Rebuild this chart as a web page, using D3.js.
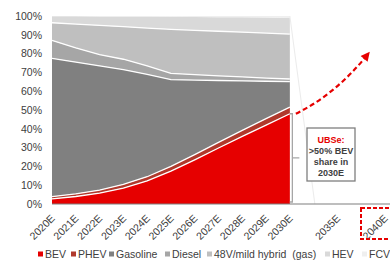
<!DOCTYPE html>
<html>
<head>
<meta charset="utf-8">
<script src="https://cdn.jsdelivr.net/npm/d3@7"></script>
<style>
  body { margin: 0; background: #fff; }
  svg { display: block; font-family: "Liberation Sans", Arial, sans-serif; }
</style>
</head>
<body>
<svg id="chart" width="390" height="261"></svg>
<script>
// categories on the axis (blank slots keep the gap before 2035E / 2040E)
const years = ["2020E","2021E","2022E","2023E","2024E","2025E","2026E","2027E","2028E","2029E","2030E"];
const tickLabels = [...years, "", "2035E", "", "2040E"];

// powertrain share, % of sales
const bev      = [2.7, 4.0, 5.8, 8.5, 12.3, 17.5, 23.5, 29.8, 36.0, 42.0, 48.0];
const phev     = [1.2, 1.4, 1.6, 1.9, 2.2, 2.5, 2.8, 3.0, 3.2, 3.4, 3.5];
const gasoline = [73.6, 70.1, 66.1, 61.1, 54.5, 46.2, 39.6, 32.9, 26.3, 19.9, 13.6];
const diesel   = [9.5, 7.5, 6.0, 5.5, 4.5, 3.3, 2.9, 2.5, 2.1, 1.7, 1.4];
const mild48v  = [9.4, 12.7, 15.5, 17.3, 20.1, 23.4, 23.6, 23.7, 23.8, 23.9, 23.9];
const hev      = [3.5, 4.2, 4.8, 5.5, 6.1, 6.7, 7.1, 7.5, 7.9, 8.3, 8.6];
const fcv      = [0.1, 0.1, 0.2, 0.2, 0.3, 0.4, 0.5, 0.6, 0.7, 0.8, 1.0];

const seriesNames = ["BEV", "PHEV", "Gasoline", "Diesel", "48V/mild hybrid  (gas)", "HEV", "FCV"];
const seriesValues = [bev, phev, gasoline, diesel, mild48v, hev, fcv];
const yTicks = [0, 10, 20, 30, 40, 50, 60, 70, 80, 90, 100];

const colors = ["#e60000", "#b0392c", "#808080", "#a6a6a6", "#bfbfbf", "#d9d9d9", "#efefef"];
const legendX = [38, 71, 109, 165, 207, 325, 362];

const svg = d3.select("#chart");

// rows for the stack
const rows = years.map((yr, i) => {
  const r = { idx: i };
  seriesNames.forEach((n, k) => r[n] = seriesValues[k][i]);
  return r;
});

const x = d3.scalePoint().domain(d3.range(tickLabels.length)).range([52, 385]);
const y = d3.scaleLinear().domain([0, 100]).range([204, 16]);

const stacked = d3.stack().keys(seriesNames)(rows);

const area = d3.area()
  .x(d => x(d.data.idx))
  .y0(d => y(d[0]))
  .y1(d => y(d[1]));

const topLine = d3.line()
  .x(d => x(d.data.idx))
  .y(d => y(d[1]));

svg.append("g").selectAll("path")
  .data(stacked)
  .join("path")
  .attr("d", area)
  .attr("fill", (d, i) => colors[i]);

// white separators between bands
svg.append("g").selectAll("path")
  .data(stacked.slice(0, 5))
  .join("path")
  .attr("d", topLine)
  .attr("fill", "none")
  .attr("stroke", "#fff")
  .attr("stroke-width", 1.3);

// faint leader line to the right of 2030E
svg.append("line")
  .attr("x1", x(10)).attr("y1", y(100))
  .attr("x2", x(10) + 25).attr("y2", y(0))
  .attr("stroke", "#ebebeb").attr("stroke-width", 1);

// y axis
const yAxis = svg.append("g")
  .attr("transform", "translate(52,0)")
  .call(d3.axisLeft(y).tickValues(yTicks).tickFormat(d => d + "%").tickSize(0).tickPadding(10));
yAxis.select(".domain").remove();
yAxis.selectAll("text")
  .attr("font-size", 10.5)
  .attr("font-family", "Liberation Sans, Arial, sans-serif")
  .attr("fill", "#404040");

// x axis
const xAxis = svg.append("g")
  .attr("transform", "translate(0,204)")
  .call(d3.axisBottom(x).tickFormat(i => tickLabels[i]).tickSize(0));
xAxis.select(".domain").remove();
xAxis.selectAll("text")
  .attr("x", 0).attr("y", 0).attr("dy", 0)
  .attr("text-anchor", "end")
  .attr("transform", "translate(3,15) rotate(-45)")
  .attr("font-size", 10.5)
  .attr("font-family", "Liberation Sans, Arial, sans-serif")
  .attr("fill", "#404040");

svg.append("line")
  .attr("x1", 52).attr("x2", 390)
  .attr("y1", y(0)).attr("y2", y(0))
  .attr("stroke", "#7f7f7f").attr("stroke-width", 1.2);

// bracket beside the 2030E BEV share
const bx = x(10) + 2.5;
const bTop = y(bev[10]);
const bBot = y(0) - 2;
svg.append("path")
  .attr("d", `M${bx - 2.5},${bTop} H${bx} V${bBot} H${bx - 2.5} M${bx},${(bTop + bBot) / 2} H${bx + 7}`)
  .attr("fill", "none")
  .attr("stroke", "#a6a6a6")
  .attr("stroke-width", 1.3);

// callout box
const box = svg.append("g");
box.append("rect")
  .attr("x", 307).attr("y", 128).attr("width", 48).attr("height", 53)
  .attr("fill", "#fff").attr("stroke", "#7f7f7f").attr("stroke-width", 1.3);
const boxLines = ["UBSe:", ">50% BEV", "share in", "2030E"];
box.selectAll("text")
  .data(boxLines)
  .join("text")
  .attr("x", 331)
  .attr("y", (d, i) => 142.5 + i * 11)
  .attr("text-anchor", "middle")
  .attr("font-size", 9)
  .attr("font-weight", "bold")
  .attr("fill", (d, i) => i === 0 ? "#e60000" : "#404040")
  .text(d => d);

// red dashed arrow
const p0 = [x(10) + 6, bTop], c = [335, 94.5], p1 = [366, 56.5];
svg.append("path")
  .attr("d", `M${p0[0]},${p0[1]} Q${c[0]},${c[1]} ${p1[0]},${p1[1]}`)
  .attr("fill", "none")
  .attr("stroke", "#e60000")
  .attr("stroke-width", 2.2)
  .attr("stroke-dasharray", "5,3");
const dx = p1[0] - c[0], dy = p1[1] - c[1], len = Math.hypot(dx, dy);
const ux = dx / len, uy = dy / len;
const tip = [p1[0] + ux * 6, p1[1] + uy * 6];
const base = [tip[0] - ux * 9, tip[1] - uy * 9];
svg.append("path")
  .attr("d", `M${tip[0]},${tip[1]} L${base[0] - uy * 4.5},${base[1] + ux * 4.5} L${base[0] + uy * 4.5},${base[1] - ux * 4.5} Z`)
  .attr("fill", "#e60000");

// dashed box round 2040E
svg.append("rect")
  .attr("x", 361).attr("y", 208).attr("width", 40).attr("height", 31)
  .attr("fill", "none")
  .attr("stroke", "#e60000")
  .attr("stroke-width", 2)
  .attr("stroke-dasharray", "4,2");

// legend
const legend = svg.append("g").selectAll("g")
  .data(seriesNames)
  .join("g")
  .attr("transform", (d, i) => `translate(${legendX[i]},254)`);
legend.append("rect")
  .attr("x", 0).attr("y", -2.5).attr("width", 5).attr("height", 5)
  .attr("fill", (d, i) => colors[i]);
legend.append("text")
  .attr("x", 7).attr("dy", "0.35em")
  .attr("font-size", 10.5)
  .attr("fill", "#404040")
  .style("white-space", "pre")
  .text(d => d);
</script>
</body>
</html>
